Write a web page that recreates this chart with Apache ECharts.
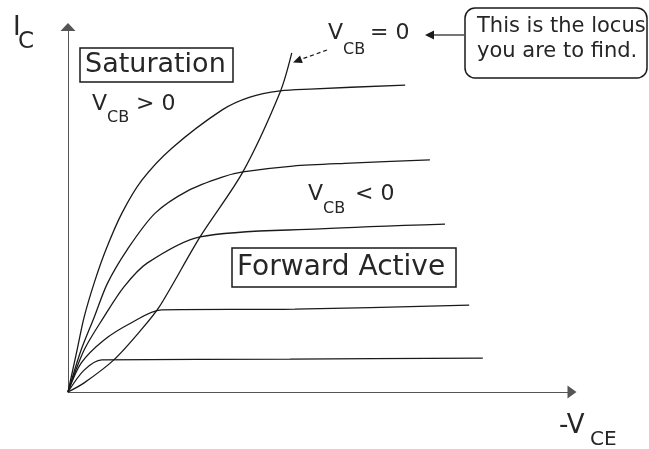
<!DOCTYPE html>
<html>
<head>
<meta charset="utf-8">
<script src="https://cdn.jsdelivr.net/npm/echarts@6/dist/echarts.min.js"></script>
<style>
  html, body { margin: 0; padding: 0; background: #fff; }
  #main { width: 649px; height: 449px; }
</style>
</head>
<body>
<div id="main"></div>
<script>
// -V_CE on x (0..10), I_C on y (0..10), arbitrary units
const curve1 = [[0, 0], [0.18, 1.15], [0.32, 2.05], [0.52, 2.99], [0.75, 3.89], [1.07, 4.90], [1.47, 5.81], [2.06, 6.68], [3.06, 7.73], [3.61, 8.08], [4.21, 8.25], [4.80, 8.30], [6.69, 8.41]];
const curve2 = [[0, 0], [0.26, 1.15], [0.52, 2.05], [0.78, 2.97], [1.17, 3.89], [1.73, 4.90], [2.40, 5.53], [3.06, 5.89], [3.47, 6.03], [4.46, 6.19], [5.60, 6.27], [7.18, 6.36]];
const curve3 = [[0, 0], [0.32, 1.15], [0.71, 2.05], [1.11, 2.88], [1.57, 3.53], [2.62, 4.25], [5.00, 4.47], [7.48, 4.60]];
const curve4 = [[0, 0], [0.26, 0.79], [0.71, 1.42], [1.25, 1.89], [1.85, 2.25], [4.50, 2.27], [7.96, 2.38]];
const curve5 = [[0, 0], [0.32, 0.60], [0.67, 0.88], [4.40, 0.90], [8.23, 0.93]];
// V_CB = 0 boundary
const locus = [[0, 0], [0.32, 0.25], [0.91, 0.88], [1.45, 1.70], [1.81, 2.33], [2.62, 4.25], [3.47, 6.03], [4.21, 8.22], [4.44, 9.29]];

const curves = [curve1, curve2, curve3, curve4, curve5, locus];

const FONT = 'DejaVu Sans';
const INK = '#1a1a1a';
const TEXT = '#262626';

let myChart = echarts.init(document.getElementById('main'));

function txt(x, y, text, size) {
    return {
        type: 'text', x: x, y: y, silent: true,
        style: { text: text, fill: TEXT, font: size + 'px "' + FONT + '"', verticalAlign: 'middle' }
    };
}

let option = {
    animation: false,
    backgroundColor: '#fff',
    grid: { left: 68, right: 77, top: 27, bottom: 57 },
    xAxis: {
        type: 'value', min: 0, max: 10,
        splitLine: { show: false }, axisTick: { show: false }, axisLabel: { show: false },
        axisLine: { show: true, symbol: ['none', 'triangle'], symbolSize: [13, 9], lineStyle: { color: '#555', width: 1 } }
    },
    yAxis: {
        type: 'value', min: 0, max: 10,
        splitLine: { show: false }, axisTick: { show: false }, axisLabel: { show: false },
        axisLine: { show: true, symbol: ['none', 'triangle'], symbolSize: [15, 8], lineStyle: { color: '#555', width: 1 } }
    },
    series: curves.map(function (d) {
        return {
            type: 'line', data: d, symbol: 'none', silent: true,
            smooth: 0.3,
            lineStyle: { color: INK, width: 1.3 }
        };
    }),
    graphic: [
        // axis names
        txt(13, 28, 'I', 26),
        txt(18, 42, 'C', 23),
        txt(559, 426, '-V', 26),
        txt(590, 440, 'CE', 20),
        // Saturation
        { type: 'rect', shape: { x: 80, y: 48, width: 153, height: 34 }, style: { fill: 'none', stroke: INK, lineWidth: 1.5 }, silent: true },
        txt(85, 65, 'Saturation', 27),
        txt(92, 104, 'V', 22),
        txt(107, 118, 'CB', 16),
        txt(136, 104, '> 0', 22),
        // V_CB = 0
        txt(328, 33, 'V', 22),
        txt(343, 50, 'CB', 16),
        txt(370, 33, '= 0', 22),
        { type: 'line', shape: { x1: 327, y1: 50, x2: 301, y2: 59.3 }, style: { stroke: INK, lineWidth: 1.2, lineDash: [4, 3] }, silent: true },
        { type: 'polygon', shape: { points: [[293, 62.5], [302.8, 63.0], [300.0, 55.6]] }, style: { fill: INK }, silent: true },
        // V_CB < 0
        txt(308, 194, 'V', 22),
        txt(323, 209, 'CB', 16),
        txt(355, 194, '< 0', 22),
        // Forward Active
        { type: 'rect', shape: { x: 232, y: 248, width: 224, height: 39 }, style: { fill: 'none', stroke: INK, lineWidth: 1.5 }, silent: true },
        txt(237, 268, 'Forward Active', 28),
        // callout
        { type: 'rect', shape: { x: 465, y: 8, width: 182, height: 70, r: 10 }, style: { fill: '#fff', stroke: INK, lineWidth: 1.5 }, silent: true },
        txt(477, 27, 'This is the locus', 21),
        txt(477, 52, 'you are to find.', 21),
        { type: 'line', shape: { x1: 464, y1: 35, x2: 432, y2: 35 }, style: { stroke: INK, lineWidth: 1.2 }, silent: true },
        { type: 'polygon', shape: { points: [[425, 35], [434, 30.5], [434, 39.5]] }, style: { fill: INK }, silent: true }
    ]
};

myChart.setOption(option);
window.onresize = function () {
    myChart.resize();
};
</script>
</body>
</html>
